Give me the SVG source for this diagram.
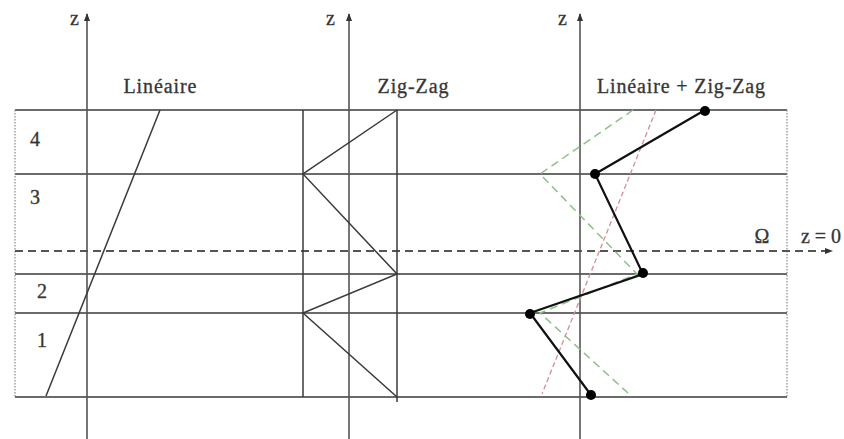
<svg xmlns="http://www.w3.org/2000/svg" width="844" height="439" viewBox="0 0 844 439">
<defs>
<style>
.ln{stroke:#3a3a3a;stroke-width:1.5;fill:none}
.ax{stroke:#555;stroke-width:1.6;fill:none}
.dot{stroke:#888;stroke-width:1.2;stroke-dasharray:1.5,1.5;fill:none}
.t{font-family:"Liberation Serif","Times New Roman",serif;font-size:20px;fill:#333;stroke:#444;stroke-width:0.35}
.pk{stroke:#d98a9a;stroke-width:1.3;stroke-dasharray:5,3;fill:none}
.gr{stroke:#8fbf8a;stroke-width:1.5;stroke-dasharray:8,5;fill:none}
.bk{stroke:#111;stroke-width:2.2;fill:none}
</style>
<marker id="ah" markerWidth="8" markerHeight="8" refX="7" refY="4" orient="auto" markerUnits="userSpaceOnUse">
<path d="M0,1 L8,4 L0,7 Z" fill="#333"/>
</marker>
</defs>
<rect width="844" height="439" fill="#fff"/>
<g id="frame">
<line class="ln" x1="15" y1="110" x2="787" y2="110"/>
<line class="ln" x1="15" y1="174" x2="787" y2="174"/>
<line class="ln" x1="15" y1="274" x2="787" y2="274"/>
<line class="ln" x1="15" y1="313" x2="787" y2="313"/>
<line class="ln" x1="15" y1="397" x2="787" y2="397"/>
<line class="dot" x1="15" y1="110" x2="15" y2="397"/>
<line class="dot" x1="787" y1="110" x2="787" y2="397"/>
</g>
<g id="omega-line">
<line x1="15" y1="251" x2="832" y2="251" stroke="#555" stroke-width="1.8" stroke-dasharray="8,5" marker-end="url(#ah)"/>
<text class="t" x="762" y="243" text-anchor="middle">Ω</text>
<text class="t" x="821" y="243" text-anchor="middle">z = 0</text>
</g>
<g id="axes">
<line class="ax" x1="87" y1="439" x2="87" y2="14" marker-end="url(#ah)"/>
<line class="ax" x1="349" y1="439" x2="349" y2="14" marker-end="url(#ah)"/>
<line class="ax" x1="580" y1="439" x2="580" y2="14" marker-end="url(#ah)"/>
<text class="t" x="70" y="25" font-size="17">z</text>
<text class="t" x="326" y="25" font-size="17">z</text>
<text class="t" x="558" y="25" font-size="17">z</text>
</g>
<g id="layers">
<text class="t" x="30" y="146">4</text>
<text class="t" x="30" y="204">3</text>
<text class="t" x="37" y="298">2</text>
<text class="t" x="37" y="347">1</text>
</g>
<g id="lineaire">
<text class="t" x="160" y="93" text-anchor="middle" textLength="73">Linéaire</text>
<line class="ln" x1="160" y1="110" x2="46" y2="396"/>
</g>
<g id="zigzag">
<text class="t" x="413" y="93" text-anchor="middle" textLength="71">Zig-Zag</text>
<line class="ln" x1="303" y1="110" x2="303" y2="397"/>
<line class="ln" x1="397" y1="110" x2="397" y2="402"/>
<polyline class="ln" points="397,110 303,174 397,274 303,313 397,397"/>
</g>
<g id="combined">
<text class="t" x="681" y="93" text-anchor="middle" textLength="168">Linéaire + Zig-Zag</text>
<line class="pk" x1="656" y1="110" x2="542" y2="394"/>
<polyline class="gr" points="633,110 540,174 637,274 540,313 628,393"/>
<polyline class="bk" points="705,110 595,174 643,274 530,313 591,395"/>
<g fill="#000">
<circle cx="705" cy="111" r="5"/>
<circle cx="595" cy="174" r="5"/>
<circle cx="643" cy="273" r="5"/>
<circle cx="530" cy="314" r="5"/>
<circle cx="591" cy="395" r="5"/>
</g>
</g>
</svg>
